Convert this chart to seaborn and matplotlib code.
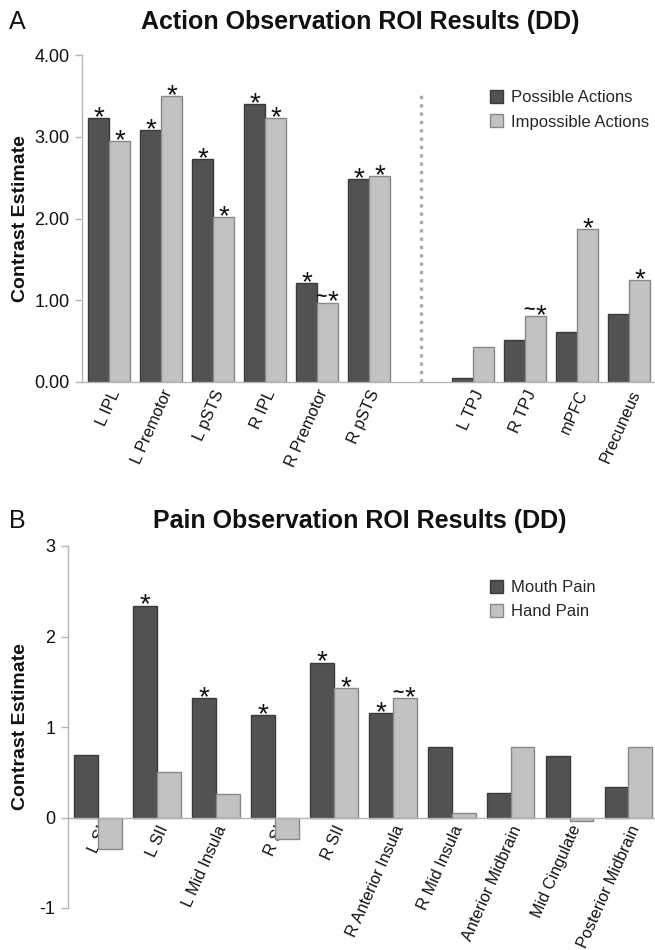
import numpy as np
import pandas as pd
import matplotlib
matplotlib.use("Agg")
import matplotlib.pyplot as plt
from matplotlib.patches import Patch
import seaborn as sns

# ---------------- Panel A data ----------------
action_regions = ["L IPL", "L Premotor", "L pSTS", "R IPL", "R Premotor", "R pSTS",
                  "L TPJ", "R TPJ", "mPFC", "Precuneus"]
possible_actions = [3.23, 3.08, 2.73, 3.40, 1.21, 2.48, 0.05, 0.51, 0.61, 0.83]
impossible_actions = [2.95, 3.50, 2.02, 3.23, 0.97, 2.52, 0.43, 0.81, 1.87, 1.25]
possible_marks = ["*", "*", "*", "*", "*", "*", "", "", "", ""]
impossible_marks = ["*", "*", "*", "*", "~*", "*", "", "~*", "*", "*"]
action_yticks = [0, 1, 2, 3, 4]
action_yticklabels = ["0.00", "1.00", "2.00", "3.00", "4.00"]

# ---------------- Panel B data ----------------
pain_regions = ["L SI", "L SII", "L Mid Insula", "R SI", "R SII", "R Anterior Insula",
                "R Mid Insula", "Anterior Midbrain", "Mid Cingulate", "Posterior Midbrain"]
mouth_pain = [0.69, 2.34, 1.32, 1.13, 1.71, 1.15, 0.78, 0.27, 0.68, 0.34]
hand_pain = [-0.35, 0.50, 0.26, -0.24, 1.43, 1.32, 0.05, 0.78, -0.04, 0.78]
mouth_marks = ["", "*", "*", "*", "*", "*", "", "", "", ""]
hand_marks = ["", "", "", "", "*", "~*", "", "", "", ""]
pain_yticks = [-1, 0, 1, 2, 3]
pain_yticklabels = ["-1", "0", "1", "2", "3"]

DARK = "#525252"
LIGHT = "#c2c2c2"
DARK_EDGE = "#3a3a3a"
LIGHT_EDGE = "#888888"
SPINE = "#b5b5b5"

sns.set_style("white")
plt.rcParams["font.family"] = ["Liberation Sans", "DejaVu Sans"]

fig = plt.figure(figsize=(6.55, 9.5), dpi=100)
H = 950.0
W = 655.0


def px_axes(left, right, top_px, bottom_px):
    return fig.add_axes([left / W, 1 - bottom_px / H, (right - left) / W, (bottom_px - top_px) / H])


def put_mark(ax, mark, cx, top):
    off = -5.0
    if mark == "~*":
        ax.annotate("*", (cx, top), xytext=(3.5, off), textcoords="offset points",
                    ha="center", va="baseline", fontsize=20, color="#111111")
        ax.annotate("~", (cx, top), xytext=(-4.5, 0.3), textcoords="offset points",
                    ha="center", va="baseline", fontsize=14, fontweight="bold", color="#111111")
    else:
        ax.annotate(mark, (cx, top), xytext=(0, off), textcoords="offset points",
                    ha="center", va="baseline", fontsize=20, color="#111111")


def draw_panel(ax, regions, order, s1, s2, names, marks1, marks2, yticks, yticklabels,
               ylim, xlim):
    n = len(regions)
    df = pd.DataFrame({
        "region": regions * 2,
        "value": list(s1) + list(s2),
        "condition": [names[0]] * n + [names[1]] * n,
    })
    sns.barplot(data=df, x="region", y="value", hue="condition", order=order,
                hue_order=names, palette={names[0]: DARK, names[1]: LIGHT},
                width=0.81, errorbar=None, saturation=1, linewidth=1.0,
                edgecolor=DARK_EDGE, ax=ax, legend=False)
    edges = [DARK_EDGE, LIGHT_EDGE]
    markmaps = [dict(zip(regions, marks1)), dict(zip(regions, marks2))]
    for cont, ec, mm in zip(ax.containers, edges, markmaps):
        for p in cont:
            p.set_edgecolor(ec)
            cx = p.get_x() + p.get_width() / 2
            idx = int(round(cx))
            if idx < 0 or idx >= len(order):
                continue
            mark = mm.get(order[idx], "")
            if mark:
                top = max(p.get_y(), p.get_y() + p.get_height())
                put_mark(ax, mark, cx, top)
    ax.set_ylim(*ylim)
    ax.set_xlim(*xlim)
    ax.set_yticks(yticks)
    ax.set_yticklabels(yticklabels)
    ax.set_xlabel("")
    ax.set_ylabel("Contrast Estimate", fontsize=14, fontweight="bold", color="#111111")
    for s in ["top", "right"]:
        ax.spines[s].set_visible(False)
    ax.spines["left"].set_color(SPINE)
    ax.spines["bottom"].set_color(SPINE)
    ax.spines["left"].set_linewidth(1.0)
    ax.spines["bottom"].set_linewidth(1.0)
    ax.spines["left"].set_bounds(ylim[0], ylim[1])
    ax.spines["bottom"].set_position(("data", 0))
    ax.tick_params(axis="y", which="both", left=True, length=5, width=1, color=SPINE,
                   labelsize=13, pad=4, labelcolor="#111111")
    ax.tick_params(axis="x", which="both", bottom=False, length=0, labelsize=11.7,
                   pad=4, labelcolor="#111111")
    for lab in ax.get_xticklabels():
        lab.set_rotation(66)
        lab.set_ha("right")
        lab.set_va("top")
        lab.set_rotation_mode("anchor")
    ax.set_facecolor("white")


# ---------------- Panel A ----------------
axA = px_axes(82, 655, 55, 382)
orderA = action_regions[:6] + [" "] + action_regions[6:]
draw_panel(axA, action_regions, orderA, possible_actions, impossible_actions,
           ["Possible Actions", "Impossible Actions"], possible_marks, impossible_marks,
           action_yticks, action_yticklabels, (0, 4), (-0.52, 10.5))
axA.vlines(orderA.index(" "), 0, 3.55, colors="#aaaaaa", linewidth=2.4,
           linestyles=(0, (1, 1.5)))
axA.yaxis.set_label_coords(-0.093, 0.5)
axA.legend(handles=[Patch(facecolor=DARK, edgecolor=DARK_EDGE, label="Possible Actions"),
                    Patch(facecolor=LIGHT, edgecolor=LIGHT_EDGE, label="Impossible Actions")],
           loc="upper left", bbox_to_anchor=(490 / W, 1 - 90 / H), bbox_transform=fig.transFigure,
           frameon=False, fontsize=12, handlelength=0.8, handleheight=0.8,
           handletextpad=0.45, labelspacing=0.55, borderpad=0, borderaxespad=0)

# ---------------- Panel B ----------------
axB = px_axes(68, 655, 546, 908)
draw_panel(axB, pain_regions, pain_regions, mouth_pain, hand_pain,
           ["Mouth Pain", "Hand Pain"], mouth_marks, hand_marks,
           pain_yticks, pain_yticklabels, (-1, 3), (-0.51, 9.45))
axB.yaxis.set_label_coords(-0.067, 0.5)
axB.legend(handles=[Patch(facecolor=DARK, edgecolor=DARK_EDGE, label="Mouth Pain"),
                    Patch(facecolor=LIGHT, edgecolor=LIGHT_EDGE, label="Hand Pain")],
           loc="upper left", bbox_to_anchor=(490 / W, 1 - 580 / H), bbox_transform=fig.transFigure,
           frameon=False, fontsize=12, handlelength=0.8, handleheight=0.8,
           handletextpad=0.45, labelspacing=0.55, borderpad=0, borderaxespad=0)

# titles and panel letters
fig.text(360 / W, 1 - 22 / H, "Action Observation ROI Results (DD)", ha="center", va="center",
         fontsize=18, fontweight="bold", color="#111111")
fig.text(9 / W, 1 - 22 / H, "A", ha="left", va="center", fontsize=18, color="#111111")
fig.text(360 / W, 1 - 521 / H, "Pain Observation ROI Results (DD)", ha="center", va="center",
         fontsize=18, fontweight="bold", color="#111111")
fig.text(9 / W, 1 - 521 / H, "B", ha="left", va="center", fontsize=18, color="#111111")

fig.savefig("out.png", dpi=100, facecolor="white")
